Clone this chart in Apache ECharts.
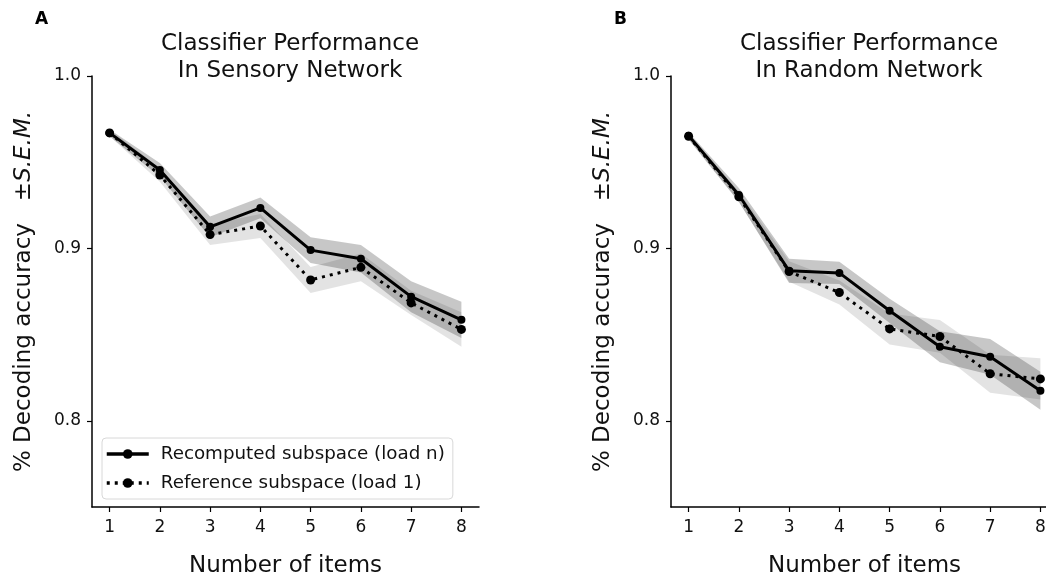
<!DOCTYPE html>
<html>
<head>
<meta charset="utf-8">
<script src="https://cdn.jsdelivr.net/npm/echarts@6/dist/echarts.min.js"></script>
<style>html,body{margin:0;padding:0;background:#fff}#c{width:1046px;height:576px}</style>
</head>
<body>
<div id="c"></div>
<script>
// ---- data ----
var items = [1, 2, 3, 4, 5, 6, 7, 8];
var xTicks = [1, 2, 3, 4, 5, 6, 7, 8];
var yTicks = [0.8, 0.9, 1.0];

var sensRecomp    = [0.967, 0.9455, 0.9125, 0.9235, 0.899, 0.894, 0.872, 0.8586];
var sensRecompSem = [0.002, 0.004, 0.006, 0.006, 0.0075, 0.008, 0.009, 0.0105];
var sensRef       = [0.967, 0.9426, 0.908, 0.913, 0.8817, 0.889, 0.8684, 0.853];
var sensRefSem    = [0.002, 0.004, 0.006, 0.007, 0.0075, 0.008, 0.007, 0.01];

var randRecomp    = [0.9654, 0.931, 0.887, 0.8858, 0.8638, 0.843, 0.8371, 0.8174];
var randRecompSem = [0.002, 0.004, 0.007, 0.0065, 0.007, 0.009, 0.0104, 0.011];
var randRef       = [0.965, 0.9299, 0.8866, 0.8744, 0.8533, 0.8489, 0.8273, 0.8243];
var randRefSem    = [0.002, 0.003, 0.006, 0.007, 0.009, 0.0095, 0.011, 0.012];

var nameRecomp = 'Recomputed subspace (load n)';
var nameRef = 'Reference subspace (load 1)';
var titles = ['Classifier Performance\nIn Sensory Network', 'Classifier Performance\nIn Random Network'];

// ---- helpers ----
var FONT = 'DejaVu Sans';
function pairs(xs, ys) { return xs.map(function (x, i) { return [x, ys[i]]; }); }

function band(idx, mean, sem, fill) {
  return {
    type: 'custom', xAxisIndex: idx, yAxisIndex: idx, silent: true, z: 1,
    data: pairs(items, mean),
    encode: { x: 0, y: 1 },
    renderItem: function (params, api) {
      if (params.dataIndex !== 0) return null;
      var pts = [];
      for (var i = 0; i < items.length; i++) pts.push(api.coord([items[i], mean[i] + sem[i]]));
      for (var j = items.length - 1; j >= 0; j--) pts.push(api.coord([items[j], mean[j] - sem[j]]));
      return { type: 'polygon', shape: { points: pts }, style: { fill: fill } };
    }
  };
}
function line(idx, name, vals, dotted) {
  return {
    type: 'line', name: name, xAxisIndex: idx, yAxisIndex: idx, z: 3,
    data: pairs(items, vals),
    symbol: 'circle', symbolSize: dotted ? 9 : 8,
    itemStyle: { color: '#000' },
    lineStyle: { color: '#000', width: 3, type: dotted ? [3, 5] : 'solid' },
    emphasis: { disabled: true }
  };
}
function xAxis(idx) {
  return {
    type: 'value', gridIndex: idx, min: 0.65, max: 8.35,
    name: 'Number of items', nameLocation: 'middle', nameGap: 48,
    nameTextStyle: { fontFamily: FONT, fontSize: 23, color: '#111' },
    axisLine: { show: true, lineStyle: { color: '#000', width: 1.5 } },
    axisTick: { show: true, length: 5, lineStyle: { color: '#000', width: 1.2 }, customValues: xTicks },
    axisLabel: { fontFamily: FONT, fontSize: 17, color: '#111', margin: 12, customValues: xTicks,
                 formatter: function (v) { return String(v); } },
    splitLine: { show: false }
  };
}
function yAxis(idx) {
  return {
    type: 'value', gridIndex: idx, min: 0.75, max: 1.0,
    name: '{n|% Decoding accuracy   ±}{i|S.E.M.}', nameLocation: 'middle', nameRotate: 90, nameGap: 56,
    nameTextStyle: { fontFamily: FONT, fontSize: 23, color: '#111',
      rich: { n: { fontFamily: FONT, fontSize: 23, color: '#111' },
              i: { fontFamily: FONT, fontSize: 23, color: '#111', fontStyle: 'italic' } } },
    axisLine: { show: true, lineStyle: { color: '#000', width: 1.5 } },
    axisTick: { show: true, length: 5, lineStyle: { color: '#000', width: 1.2 }, customValues: yTicks },
    axisLabel: { fontFamily: FONT, fontSize: 17, color: '#111', margin: 11, customValues: yTicks,
                 formatter: function (v) { return v.toFixed(1); } },
    splitLine: { show: false }
  };
}

var chart = echarts.init(document.getElementById('c'), null, { renderer: 'canvas' });
chart.setOption({
  animation: false,
  backgroundColor: '#fff',
  title: [
    { text: titles[0], left: 285, top: 26, textAlign: 'center',
      textStyle: { fontFamily: FONT, fontSize: 23, fontWeight: 'normal', color: '#111', lineHeight: 27 } },
    { text: titles[1], left: 864, top: 26, textAlign: 'center',
      textStyle: { fontFamily: FONT, fontSize: 23, fontWeight: 'normal', color: '#111', lineHeight: 27 } }
  ],
  graphic: [
    { type: 'text', left: 35, top: 11, style: { text: 'A', font: 'bold 17px "DejaVu Sans"', fill: '#000' } },
    { type: 'text', left: 614, top: 11, style: { text: 'B', font: 'bold 17px "DejaVu Sans"', fill: '#000' } }
  ],
  legend: {
    data: [nameRecomp, nameRef], orient: 'vertical', left: 102, top: 438,
    padding: [7, 8, 7, 3], itemGap: 11, itemWidth: 42, itemHeight: 12,
    backgroundColor: '#fff', borderColor: '#d8d8d8', borderWidth: 1, borderRadius: 4,
    lineStyle: { width: 3.5 },
    textStyle: { fontFamily: FONT, fontSize: 18.3, color: '#111', padding: [0, 0, 0, 7] },
    selectedMode: false
  },
  grid: [
    { left: 92, top: 76, width: 387, height: 431, containLabel: false, outerBoundsMode: 'none' },
    { left: 671, top: 76, width: 387, height: 431, containLabel: false, outerBoundsMode: 'none' }
  ],
  xAxis: [xAxis(0), xAxis(1)],
  yAxis: [yAxis(0), yAxis(1)],
  series: [
    band(0, sensRef, sensRefSem, 'rgba(0,0,0,0.11)'),
    band(0, sensRecomp, sensRecompSem, 'rgba(0,0,0,0.22)'),
    line(0, nameRecomp, sensRecomp, false),
    line(0, nameRef, sensRef, true),
    band(1, randRef, randRefSem, 'rgba(0,0,0,0.11)'),
    band(1, randRecomp, randRecompSem, 'rgba(0,0,0,0.22)'),
    line(1, nameRecomp, randRecomp, false),
    line(1, nameRef, randRef, true)
  ]
});
</script>
</body>
</html>
